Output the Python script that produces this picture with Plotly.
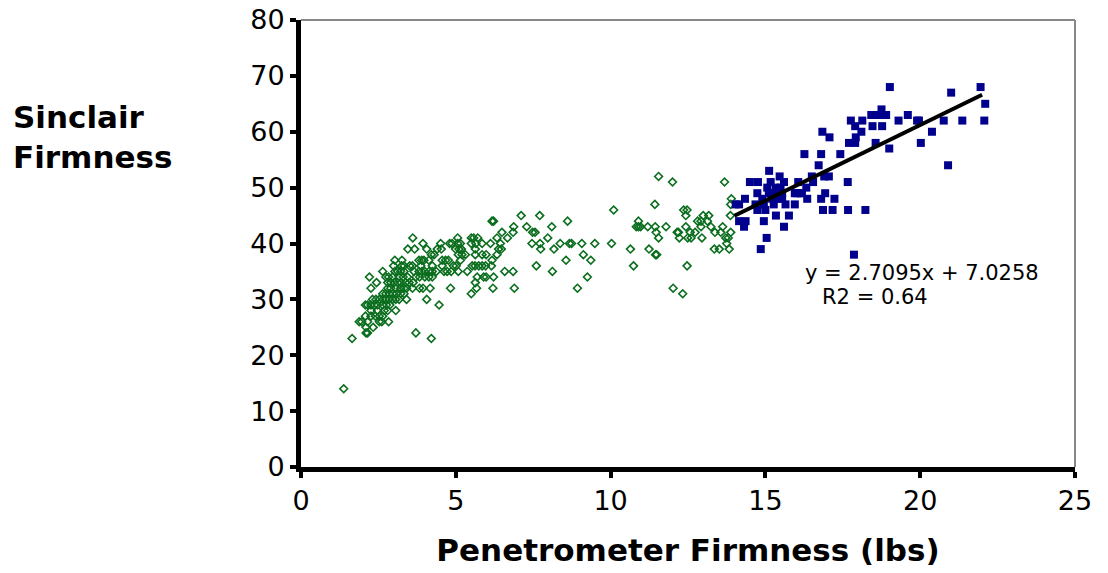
import plotly.graph_objects as go

# ---- data ----
green_x = [
    11.55, 12.0, 13.68, 13.9, 13.88, 11.43, 10.1, 12.36, 12.47,
    7.11, 7.71, 12.43, 12.99, 13.17, 13.87,
    6.17, 6.22, 8.61, 10.9, 12.81, 12.92, 13.13,
    6.87, 7.29, 8.1, 10.83, 10.9, 10.97, 11.2, 11.44, 11.79, 12.43, 12.92, 13.24, 13.62,
    6.49, 6.85, 7.48, 7.56, 11.47, 12.15, 12.19, 12.57, 12.73, 13.37, 13.56, 13.88,
    3.61, 5.06, 5.5, 5.58, 5.71, 6.33, 6.67, 7.97, 11.55, 12.22, 12.49, 12.6, 12.95, 13.72, 13.8,
    3.94, 4.51, 4.8, 4.88, 5.06, 5.15, 5.5, 5.65, 5.85, 6.12, 6.44, 7.46, 7.72, 8.37, 8.67, 8.74, 9.07, 9.49, 10.03, 13.75,
    3.45, 3.67, 4.06, 4.4, 4.53, 4.99, 5.1, 5.18, 5.63, 6.38, 6.47, 7.74, 8.17, 10.64, 11.24, 13.35, 13.51, 13.83,
    4.21, 4.30, 5.08, 5.2, 5.31, 5.63, 5.85, 5.98, 6.33, 9.12, 11.45, 11.49,
    3.03, 3.26, 3.81, 3.9, 3.97, 4.13, 4.56, 4.67, 4.76, 5.15, 6.17, 8.56, 9.36,
    2.99, 3.25, 3.33, 3.51, 3.6, 3.87, 4.24, 4.56, 4.92, 5.01, 5.53, 5.62, 5.74, 5.85, 5.96, 6.15, 7.6, 10.74, 12.47,
    2.64, 3.03, 3.12, 3.22, 3.33, 3.65, 3.81, 3.9, 4.0, 4.13, 4.24, 4.37, 4.62, 4.72, 4.85, 5.08, 5.37, 6.58, 6.85, 8.12,
    2.21, 2.74, 2.83, 2.96, 3.17, 3.3, 3.44, 3.71, 3.83, 4.0, 4.13, 4.24, 5.69, 5.9, 5.98, 6.22, 9.25,
    2.44, 2.8, 2.9, 3.01, 3.12, 3.22, 3.38, 3.49, 3.62, 5.63,
    2.26, 2.8, 2.9, 3.06, 3.22, 3.33, 3.41, 3.6, 3.83, 3.94, 4.17, 4.83, 5.67, 6.2, 6.89, 8.93, 12.02,
    2.64, 2.74, 2.85, 2.96, 3.08, 3.22, 3.33, 5.5, 12.33,
    2.31, 2.42, 2.53, 2.64, 2.74, 2.85, 2.96, 3.06, 3.17, 3.41, 4.06,
    2.08, 2.15, 2.26, 2.37, 2.47, 2.64, 2.76, 2.87, 4.46,
    2.26, 2.47, 2.69, 2.8, 3.06,
    2.08, 2.26, 2.4, 2.53, 2.64,
    1.88, 1.96, 2.15, 2.53, 2.61, 2.83,
    2.1, 2.33,
    2.1, 2.15, 3.71,
    1.65, 4.21,
    1.38,
]
green_y = [
    52, 51, 51, 48, 47, 47, 46, 46, 46,
    45, 45, 45, 45, 45, 45,
    44, 44, 44, 44, 44, 44, 44,
    43, 43, 43, 43, 43, 43, 43, 43, 43, 43, 43, 43, 43,
    42, 42, 42, 42, 42, 42, 42, 42, 42, 42, 42, 42,
    41, 41, 41, 41, 41, 41, 41, 41, 41, 41, 41, 41, 41, 41, 41,
    40, 40, 40, 40, 40, 40, 40, 40, 40, 40, 40, 40, 40, 40, 40, 40, 40, 40, 40, 40,
    39, 39, 39, 39, 39, 39, 39, 39, 39, 39, 39, 39, 39, 39, 39, 39, 39, 39,
    38, 38, 38, 38, 38, 38, 38, 38, 38, 38, 38, 38,
    37, 37, 37, 37, 37, 37, 37, 37, 37, 37, 37, 37, 37,
    36, 36, 36, 36, 36, 36, 36, 36, 36, 36, 36, 36, 36, 36, 36, 36, 36, 36, 36,
    35, 35, 35, 35, 35, 35, 35, 35, 35, 35, 35, 35, 35, 35, 35, 35, 35, 35, 35, 35,
    34, 34, 34, 34, 34, 34, 34, 34, 34, 34, 34, 34, 34, 34, 34, 34, 34,
    33, 33, 33, 33, 33, 33, 33, 33, 33, 33,
    32, 32, 32, 32, 32, 32, 32, 32, 32, 32, 32, 32, 32, 32, 32, 32, 32,
    31, 31, 31, 31, 31, 31, 31, 31, 31,
    30, 30, 30, 30, 30, 30, 30, 30, 30, 30, 30,
    29, 29, 29, 29, 29, 29, 29, 29, 29,
    28, 28, 28, 28, 28,
    27, 27, 27, 27, 27,
    26, 26, 26, 26, 26, 26,
    25, 25,
    24, 24, 24,
    23, 23,
    14,
]

blue_x = [
    19.02, 21.95, 21.0, 22.1, 22.07, 21.36, 20.76, 20.38, 20.02, 20.9,
    19.9, 19.96, 19.6, 19.3, 19.0, 18.75, 18.75, 18.6, 18.9, 18.42,
    18.77, 18.46, 18.13, 17.76, 17.9, 18.1, 17.92, 17.7, 17.9, 18.56,
    16.84, 17.07, 16.26, 16.8, 17.42, 16.72, 16.5, 16.9, 17.05, 16.54,
    17.66, 16.32, 16.06, 16.93, 16.02, 16.18, 16.35, 16.8, 17.23, 16.86,
    17.17, 17.67, 18.23, 17.86, 15.95, 15.76, 15.6, 15.34, 15.04, 14.85,
    14.95, 14.31, 14.15, 14.36, 14.04, 14.15, 14.34, 14.5, 14.76, 15.12,
    15.17, 15.6, 15.46, 14.74, 15.06, 15.11, 15.22, 15.49, 15.54, 14.68,
    14.95, 15.27, 15.65, 14.74, 15.0, 15.38, 15.54, 14.9, 15.22, 15.95,
    15.33, 15.43, 16.13,
]
blue_y = [
    68, 68, 67, 65, 62, 62, 62, 60, 58, 54,
    62, 62, 63, 62, 57, 64, 63, 63, 63, 63,
    61, 61, 62, 62, 61, 60, 59, 58, 58, 58,
    60, 59, 56, 56, 56, 54, 52, 52, 52, 51,
    51, 50, 51, 49, 49, 49, 48, 48, 48, 46,
    46, 46, 46, 38, 47, 45, 43, 45, 41, 39,
    44, 43, 44, 44, 47, 47, 48, 51, 51, 53,
    51, 51, 52, 49, 50, 49, 49, 50, 49, 47,
    47, 47, 47, 46, 46, 48, 48, 48, 48, 49,
    50, 49, 49,
]

slope = 2.7095
intercept = 7.0258
trend_x = [14.0, 22.0]
trend_y = [slope * v + intercept for v in trend_x]

x_ticks = [0, 5, 10, 15, 20, 25]
y_ticks = [0, 10, 20, 30, 40, 50, 60, 70, 80]

fig = go.Figure()
fig.add_trace(go.Scatter(
    x=green_x, y=green_y, mode="markers",
    marker=dict(symbol="diamond-open", size=6, color="#0b6e1e", line=dict(width=1.6, color="#0b6e1e")),
    showlegend=False, hoverinfo="x+y",
))
fig.add_trace(go.Scatter(
    x=blue_x, y=blue_y, mode="markers",
    marker=dict(symbol="square", size=8, color="#00008c", line=dict(width=0)),
    showlegend=False, hoverinfo="x+y",
))
fig.add_trace(go.Scatter(
    x=trend_x, y=trend_y, mode="lines",
    line=dict(color="black", width=4),
    showlegend=False, hoverinfo="skip",
))

font_main = "DejaVu Sans, Verdana, sans-serif"
L, R, T, B = 293, 41, 12, 114
PW = 1108 - L - R
PH = 573 - T - B

fig.update_layout(
    width=1108, height=573,
    margin=dict(l=L, r=R, t=T, b=B, autoexpand=False),
    paper_bgcolor="white", plot_bgcolor="white",
    font=dict(family=font_main, color="black"),
    xaxis=dict(
        range=[0, 25], tickvals=x_ticks, ticktext=[str(v) for v in x_ticks],
        showgrid=False, zeroline=False, automargin=False, ticklabeloverflow="allow",
        showline=True, linecolor="black", linewidth=5,
        ticks="outside", ticklen=6, tickwidth=4, tickcolor="black",
        tickfont=dict(size=27, family=font_main),
        title=dict(text="<b>Penetrometer Firmness (lbs)</b>", font=dict(size=31, family=font_main), standoff=25),
    ),
    yaxis=dict(
        range=[0, 80], tickvals=y_ticks, ticktext=[str(v) for v in y_ticks],
        showgrid=False, zeroline=False, automargin=False, ticklabeloverflow="allow",
        showline=True, linecolor="black", linewidth=5,
        ticks="outside", ticklen=6, tickwidth=4, tickcolor="black",
        tickfont=dict(size=27, family=font_main),
    ),
    shapes=[
        dict(type="line", xref="paper", yref="paper", x0=0, x1=1, y0=1, y1=1,
             line=dict(color="#888888", width=2)),
        dict(type="line", xref="paper", yref="paper", x0=1, x1=1, y0=0, y1=1,
             line=dict(color="#888888", width=2)),
    ],
    annotations=[
        dict(text="<b>Sinclair<br>Firmness</b>", xref="paper", yref="paper",
             x=(3 - L) / PW, y=(573 - B - 129) / PH, xanchor="left", yanchor="middle",
             showarrow=False, align="left", font=dict(size=31, family=font_main)),
        dict(text="y = 2.7095x + 7.0258", xref="x", yref="y", x=16.2, y=34.8,
             xanchor="left", yanchor="middle", showarrow=False, font=dict(size=21, family=font_main)),
        dict(text="R2 = 0.64", xref="x", yref="y", x=16.75, y=30.5,
             xanchor="left", yanchor="middle", showarrow=False, font=dict(size=21, family=font_main)),
    ],
)

fig.write_html("out.html")
